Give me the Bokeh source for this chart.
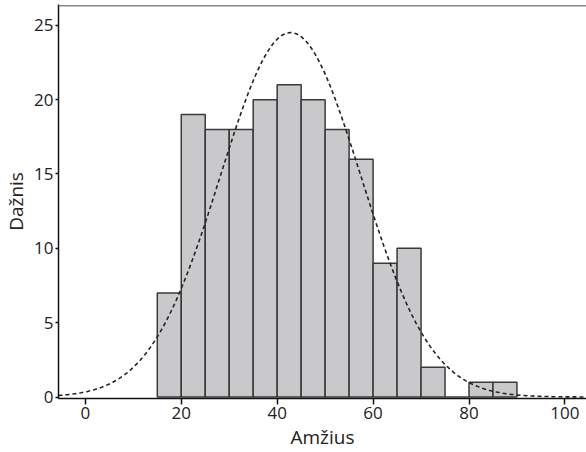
import numpy as np
from bokeh.plotting import figure
from bokeh.models import Range1d, FixedTicker, Span
from bokeh.embed import file_html
from bokeh.resources import INLINE

# Histogram data (age bins of width 5)
bin_left = [15, 20, 25, 30, 35, 40, 45, 50, 55, 60, 65, 70, 75, 80, 85]
counts = [7, 19, 18, 18, 20, 21, 20, 18, 16, 9, 10, 2, 0, 1, 1]
bin_width = 5
# Fitted normal curve parameters
mean_age = 42.8
sd_age = 14.65
x_ticks = [0, 20, 40, 60, 80, 100]
y_ticks = [0, 5, 10, 15, 20, 25]

FONT = "Open Sans"

p = figure(width=586, height=452, output_backend="svg", toolbar_location=None,
           x_range=Range1d(-5.6, 104.5), y_range=Range1d(-0.1, 26.4),
           min_border_left=58, min_border_right=0, min_border_top=4, min_border_bottom=53)
p.background_fill_color = "white"
p.border_fill_color = "white"
p.outline_line_color = None
p.xgrid.visible = False
p.ygrid.visible = False

# top frame line only (no right border in the reference)
p.add_layout(Span(location=26.32, dimension="width", line_color="#888888", line_width=1.5))

lefts = np.array(bin_left, dtype=float)
p.quad(left=lefts, right=lefts + bin_width, bottom=0, top=counts,
       fill_color="#c9c9cb", line_color="#3a3a3a", line_width=1.5)

n_total = sum(counts)
xs = np.linspace(-5.6, 104.5, 400)
ys = n_total * bin_width * np.exp(-0.5 * ((xs - mean_age) / sd_age) ** 2) / (sd_age * np.sqrt(2 * np.pi))
p.line(xs, ys, line_color="#222222", line_width=1.6, line_dash="4 3")

for ax in (p.xaxis[0], p.yaxis[0]):
    ax.axis_line_color = "#111111"
    ax.axis_line_width = 1.5
    ax.major_tick_line_color = "#111111"
    ax.major_tick_line_width = 1.5
    ax.minor_tick_line_color = None
    ax.major_tick_in = 0
    ax.major_label_text_font = FONT
    ax.major_label_text_font_size = "17px"
    ax.major_label_text_color = "#222222"
    ax.axis_label_text_font = FONT
    ax.axis_label_text_font_size = "19px"
    ax.axis_label_text_font_style = "normal"
    ax.axis_label_text_color = "#222222"

p.xaxis.ticker = FixedTicker(ticks=x_ticks)
p.yaxis.ticker = FixedTicker(ticks=y_ticks)
p.xaxis.major_tick_out = 6
p.yaxis.major_tick_out = 3
p.xaxis.major_label_standoff = 2
p.yaxis.major_label_standoff = 2
p.xaxis.axis_label = "Amžius"
p.yaxis.axis_label = "Dažnis"
p.xaxis.axis_label_standoff = 2
p.yaxis.axis_label_standoff = 2

open("out.html", "w").write(file_html(p, INLINE))
